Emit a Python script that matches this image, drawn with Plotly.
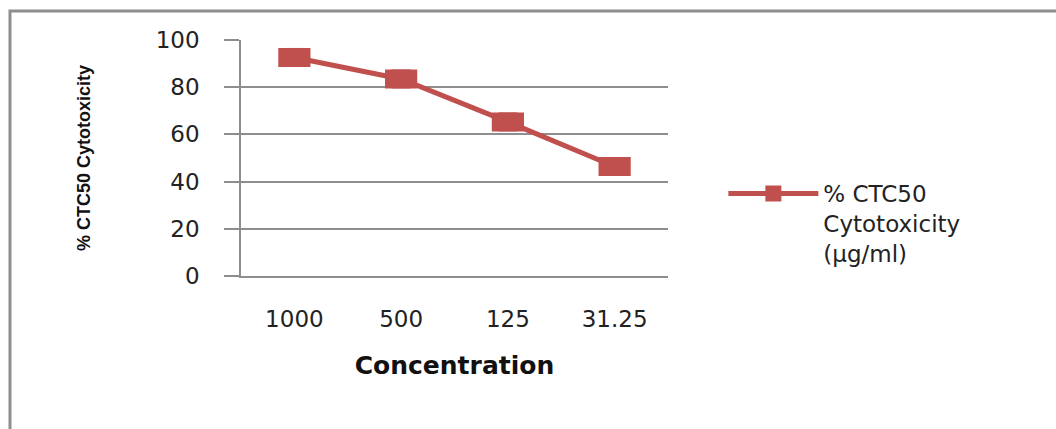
import plotly.graph_objects as go

# Concentrations (µg/ml) and % CTC50 cytotoxicity
concentration = ["1000", "500", "125", "31.25"]
cytotoxicity = [92.6, 83.5, 65.3, 46.4]
y_ticks = [0, 20, 40, 60, 80, 100]

RED = "#C0504D"
GREY = "#8e8e8e"

fig = go.Figure()

# Line with square markers (also provides the legend entry)
fig.add_trace(go.Scatter(
    x=concentration, y=cytotoxicity,
    mode="lines+markers",
    name="% CTC50<br>Cytotoxicity<br>(µg/ml)",
    line=dict(color=RED, width=5),
    marker=dict(symbol="square", size=19, color=RED),
))

# Wide rectangular markers drawn as thick horizontal strokes
fig.add_trace(go.Scatter(
    x=concentration, y=cytotoxicity,
    mode="markers",
    showlegend=False,
    hoverinfo="skip",
    marker=dict(symbol="line-ew", size=23, color=RED,
                line=dict(color=RED, width=19)),
))

# Outer chart-area border
fig.add_shape(type="rect", xref="paper", yref="paper",
              x0=-0.541, y0=-1.0, x1=2.0, y1=1.123,
              line=dict(color=GREY, width=3), layer="below")

fig.update_layout(
    width=1056, height=429,
    margin=dict(l=241, r=388, t=40, b=153),
    paper_bgcolor="white", plot_bgcolor="white",
    font=dict(family="DejaVu Sans", color="#222222"),
    showlegend=True,
    legend=dict(
        xref="container", yref="container",
        x=0.685, y=1 - 172 / 429,
        xanchor="left", yanchor="top",
        valign="top",
        itemwidth=90,
        font=dict(family="DejaVu Sans", size=23, color="#222222"),
        bgcolor="rgba(0,0,0,0)",
    ),
    xaxis=dict(
        type="category",
        range=[-0.5, 3.5],
        showgrid=False, zeroline=False,
        showline=True, linecolor=GREY, linewidth=1.5,
        ticks="",
        tickfont=dict(family="DejaVu Sans", size=23, color="#222222"),
        ticklabelstandoff=22,
        title=dict(text="<b>Concentration</b>",
                   font=dict(family="DejaVu Sans", size=25, color="#111111"),
                   standoff=25),
    ),
    yaxis=dict(
        range=[0, 100],
        tickvals=y_ticks,
        showgrid=True, gridcolor=GREY, gridwidth=1.5,
        zeroline=False,
        showline=True, linecolor=GREY, linewidth=1.5,
        ticks="outside", ticklen=15, tickcolor=GREY, tickwidth=1.5,
        tickfont=dict(family="DejaVu Sans", size=23, color="#222222"),
        ticklabelstandoff=20,
        title=dict(text="<b>% CTC50 Cytotoxicity</b>",
                   font=dict(family="Liberation Sans", size=18, color="#111111"),
                   standoff=60),
    ),
)

fig.write_html("out.html")
